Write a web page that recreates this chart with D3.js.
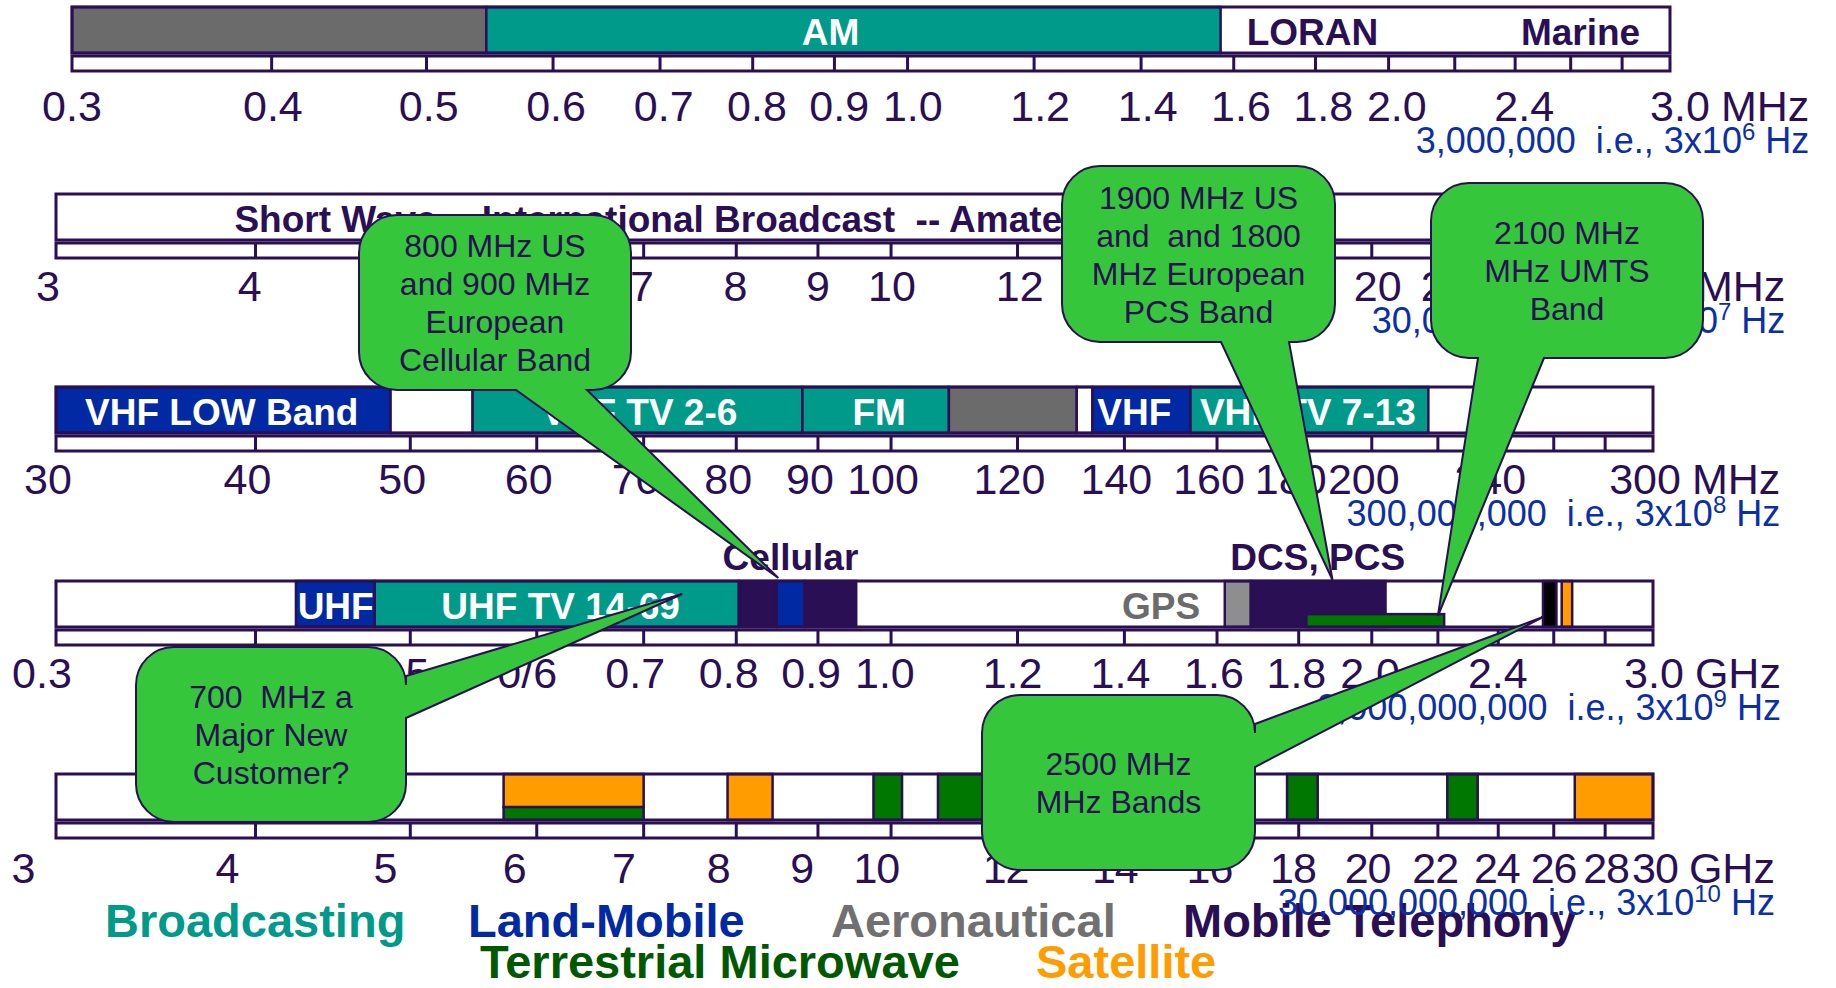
<!DOCTYPE html>
<html><head><meta charset="utf-8">
<script src="https://cdn.jsdelivr.net/npm/d3@7"></script>
<style>
html,body{margin:0;padding:0;background:#fff;}
svg{display:block;}
text{font-family:"Liberation Sans",Arial,Helvetica,sans-serif;white-space:pre;}
</style></head><body>
<svg id="chart" width="1836" height="988"></svg>
<script>
// ================= DATA =================
const rowMin  = [0.3, 3, 30, 0.3, 3];
const rowMax  = [3, 30, 300, 3, 30];
const rowUnit = ["MHz", "MHz", "MHz", "GHz", "GHz"];
const hzText  = ["3,000,000  i.e., 3x10", "30,000,000  i.e., 3x10", "300,000,000  i.e., 3x10",
                 "3,000,000,000  i.e., 3x10", "30,000,000,000  i.e., 3x10"];
const hzExp   = ["6", "7", "8", "9", "10"];

// tick marks in the strip under each band
const ticksA = [0.3,0.4,0.5,0.6,0.7,0.8,0.9,1.0,1.2,1.4,1.6,1.8,2.0,2.2,2.4,2.6,2.8,3.0];
const ticksB = [3,4,5,6,7,8,9,10,12,14,16,18,20,22,24,26,28,30];
const ticksC = [30,40,50,60,70,80,90,100,120,140,160,180,200,220,240,260,280,300];

// tick labels
const labelValsA = [0.3,0.4,0.5,0.6,0.7,0.8,0.9,1.0,1.2,1.4,1.6,1.8,2.0,2.4,3.0];
const labelTextA = ["0.3","0.4","0.5","0.6","0.7","0.8","0.9","1.0","1.2","1.4","1.6","1.8","2.0","2.4","3.0"];
const labelTextD = ["0.3","0.4","0.5","0/6","0.7","0.8","0.9","1.0","1.2","1.4","1.6","1.8","2.0","2.4","3.0"];
const labelValsB = [3,4,5,6,7,8,9,10,12,14,16,18,20,22,24,26,28,30];
const labelTextB = ["3","4","5","6","7","8","9","10","12","14","16","18","20","22","24","26","28","30"];
const labelValsC = [30,40,50,60,70,80,90,100,120,140,160,180,200,240,300];
const labelTextC = ["30","40","50","60","70","80","90","100","120","140","160","180","200","240","300"];

// allocation bands (frequency from/to in row units)
const bands1 = [
  {from:0.3,   to:0.545, cat:"aero"},
  {from:0.545, to:1.57,  cat:"broadcast"}
];
const bands2 = [];
const bands3 = [
  {from:30,    to:48.6,  cat:"land"},
  {from:48.6,  to:54.7,  cat:"none"},
  {from:54.7,  to:88,    cat:"broadcast"},
  {from:88,    to:108.7, cat:"broadcast"},
  {from:108.7, to:130.7, cat:"aero"},
  {from:130.7, to:133.7, cat:"none"},
  {from:133.7, to:154,   cat:"land"},
  {from:154,   to:217,   cat:"broadcast"}
];
const bands4 = [
  {from:0.424, to:0.475, cat:"land"},
  {from:0.475, to:0.803, cat:"broadcast"},
  {from:0.803, to:0.848, cat:"mobile"},
  {from:0.848, to:0.883, cat:"land"},
  {from:0.883, to:0.951, cat:"mobile"},
  {from:1.618, to:1.68,  cat:"gps"},
  {from:1.68,  to:2.04,  cat:"mobile"},
  {from:1.82,  to:2.22,  cat:"micro", part:"bottom"},
  {from:2.56,  to:2.61,  cat:"black"},
  {from:2.63,  to:2.67,  cat:"sat"}
];
const bands5 = [
  {from:5.72,  to:7.0,  cat:"sat",   part:"top"},
  {from:5.72,  to:7.0,  cat:"micro", part:"bottom"},
  {from:7.9,   to:8.43, cat:"sat"},
  {from:9.75,  to:10.16,cat:"micro"},
  {from:10.7,  to:11.7, cat:"micro"},
  {from:17.7,  to:18.5, cat:"micro"},
  {from:22.3,  to:23.3, cat:"micro"},
  {from:26.8,  to:30,   cat:"sat"}
];

// text written inside / above the bands
const bandLabels = [
  {row:0, at:0.895, text:"AM",           kind:"onColor", anchor:"middle"},
  {row:0, at:1.63,  text:"LORAN",        kind:"dark",    anchor:"start"},
  {row:0, at:2.42,  text:"Marine",       kind:"dark",    anchor:"start"},
  {row:1, at:3.88,  text:"Short Wave -- International Broadcast  -- Amateur", kind:"dark", anchor:"start"},
  {row:2, at:38.1,  text:"VHF LOW Band", kind:"onColor", anchor:"middle"},
  {row:2, at:69.6,  text:"VHF TV 2-6",   kind:"onColor", anchor:"middle"},
  {row:2, at:98.3,  text:"FM",           kind:"onColor", anchor:"middle"},
  {row:2, at:142,   text:"VHF",          kind:"onColor", anchor:"middle"},
  {row:2, at:182.4, text:"VHF TV 7-13",  kind:"onColor", anchor:"middle"},
  {row:3, at:0.449, text:"UHF",          kind:"onColor", anchor:"middle"},
  {row:3, at:0.621, text:"UHF TV 14-69", kind:"onColor", anchor:"middle"},
  {row:3, at:1.575, text:"GPS",          kind:"gray",    anchor:"end"}
];
const aboveLabels = [
  {row:3, at:0.865, text:"Cellular"},
  {row:3, at:1.85,  text:"DCS, PCS"}
];

// callouts: text lines and the row-4 frequency they point at
const calloutText = [
  ["800 MHz US", "and 900 MHz", "European", "Cellular Band"],
  ["1900 MHz US", "and  and 1800", "MHz European", "PCS Band"],
  ["2100 MHz", "MHz UMTS", "Band"],
  ["700  MHz a", "Major New", "Customer?"],
  ["2500 MHz", "MHz Bands"]
];
const calloutTarget = [0.85, 1.89, 2.2, 0.74, 2.56];

const legendNames = ["Broadcasting", "Land-Mobile", "Aeronautical", "Mobile Telephony",
                     "Terrestrial Microwave", "Satellite"];

// ================= STYLE / LAYOUT =================
const DARK = "#2a0f55";
const catColor = {
  broadcast:"#009a8a", land:"#0029a3", aero:"#6b6b6b", gps:"#8e8e8e",
  mobile:"#2a0f55", micro:"#007800", sat:"#ff9c00", black:"#000000", none:"#ffffff"
};
const legendColors = ["#009a8a", "#0029a3", "#707070", "#2a0f55", "#005800", "#ff9c00"];
const legendPos = [[105,937],[468,937],[831,937],[1183,937],[480,978],[1036,978]];

const rowTop    = [7, 194, 387, 581, 774];
const rowX      = [[72,1670],[56,1653],[56,1653],[56,1653],[56,1653]];
const labelX    = [[72,1680],[48,1662],[48,1645],[42,1654],[23,1655]];
const labelSpacing = [0, 0, 0, 0, -1];
const labelBase = [121, 301, 494, 688, 883];
const BOX_H = 46, STRIP_GAP = 3, STRIP_H = 15;
const HZ_DY = 32;      // Hz note baseline below tick-label baseline

const rowBands  = [bands1, bands2, bands3, bands4, bands5];
const rowTicks  = [ticksA, ticksB, ticksC, ticksA, ticksB];
const rowLVals  = [labelValsA, labelValsB, labelValsC, labelValsA, labelValsB];
const rowLTexts = [labelTextA, labelTextB, labelTextC, labelTextD, labelTextB];

// callout boxes (layout)
const calloutBox = [
  {x:359,  y:215, w:272, h:175, side:"bottom", b1:516,  b2:587,  tipDy:-3},
  {x:1062, y:166, w:273, h:176, side:"bottom", b1:1221, b2:1289, tipDy:-1},
  {x:1431, y:183, w:272, h:175, side:"bottom", b1:1478, b2:1544, tipDy:35},
  {x:136,  y:647, w:270, h:175, side:"right",  b1:676,  b2:718,  tipDy:13},
  {x:982,  y:695, w:273, h:175, side:"right",  b1:724,  b2:767,  tipDy:36}
];

// ================= DRAW =================
const svg = d3.select("#chart");
const scales = rowMin.map((m,i) => d3.scaleLog().domain([m, rowMax[i]]).range(rowX[i]));
const lscales = rowMin.map((m,i) => d3.scaleLog().domain([m, rowMax[i]]).range(labelX[i]));

const gRows = svg.append("g");
const unitEnds = [];

rowMin.forEach((_, i) => {
  const x = scales[i], top = rowTop[i];
  const [x0, x1] = rowX[i];
  const g = gRows.append("g");

  g.append("rect").attr("x", x0).attr("y", top).attr("width", x1 - x0).attr("height", BOX_H)
    .attr("fill", "#fff").attr("stroke", "none");

  g.selectAll("rect.band").data(rowBands[i]).join("rect").attr("class", "band")
    .attr("x", d => x(d.from))
    .attr("width", d => x(d.to) - x(d.from))
    .attr("y", d => d.part === "bottom" ? top + BOX_H * 0.72 : top)
    .attr("height", d => d.part === "bottom" ? BOX_H * 0.28 : (d.part === "top" ? BOX_H * 0.72 : BOX_H))
    .attr("fill", d => catColor[d.cat])
    .attr("stroke", DARK).attr("stroke-width", 2.5);

  g.append("rect").attr("x", x0).attr("y", top).attr("width", x1 - x0).attr("height", BOX_H)
    .attr("fill", "none").attr("stroke", DARK).attr("stroke-width", 3);

  const sy = top + BOX_H + STRIP_GAP;
  g.append("rect").attr("x", x0).attr("y", sy).attr("width", x1 - x0).attr("height", STRIP_H)
    .attr("fill", "#fff").attr("stroke", DARK).attr("stroke-width", 3);
  g.selectAll("line.tick").data(rowTicks[i].slice(1, -1)).join("line").attr("class", "tick")
    .attr("x1", d => x(d)).attr("x2", d => x(d))
    .attr("y1", sy).attr("y2", sy + STRIP_H)
    .attr("stroke", DARK).attr("stroke-width", 3);

  const lx = lscales[i];
  const vals = rowLVals[i], texts = rowLTexts[i];
  const lab = g.selectAll("text.tl").data(vals).join("text").attr("class", "tl")
    .attr("x", d => lx(d)).attr("y", labelBase[i])
    .attr("text-anchor", "middle")
    .attr("font-size", 43).attr("fill", DARK)
    .attr("letter-spacing", labelSpacing[i])
    .text((d, j) => texts[j]);
  const lastNode = lab.nodes()[lab.size() - 1];
  const lastW = lastNode.getComputedTextLength();
  const ux = lx(vals[vals.length - 1]) + lastW / 2 + 11;
  const unit = g.append("text").attr("x", ux).attr("y", labelBase[i])
    .attr("font-size", 43).attr("fill", DARK).text(rowUnit[i]);
  unitEnds.push(ux + unit.node().getComputedTextLength());
});

gRows.selectAll("text.bl").data(bandLabels).join("text").attr("class", "bl")
  .attr("x", d => scales[d.row](d.at) + (d.anchor === "end" ? -6 : 0))
  .attr("y", d => rowTop[d.row] + 38)
  .attr("text-anchor", d => d.anchor)
  .attr("font-size", 37).attr("font-weight", "bold")
  .attr("fill", d => d.kind === "onColor" ? "#ffffff" : (d.kind === "gray" ? "#6b6b6b" : DARK))
  .text(d => d.text);

gRows.selectAll("text.al").data(aboveLabels).join("text").attr("class", "al")
  .attr("x", d => scales[d.row](d.at))
  .attr("y", d => rowTop[d.row] - 11)
  .attr("text-anchor", "middle")
  .attr("font-size", 37).attr("font-weight", "bold").attr("fill", DARK)
  .text(d => d.text);

// legend
svg.append("g").selectAll("text").data(legendNames).join("text")
  .attr("x", (d, i) => legendPos[i][0]).attr("y", (d, i) => legendPos[i][1])
  .attr("font-size", 47).attr("font-weight", "bold")
  .attr("fill", (d, i) => legendColors[i])
  .text(d => d);

// Hz notes (blue)
const gHz = svg.append("g");
hzText.forEach((t, i) => {
  const tx = gHz.append("text").attr("x", unitEnds[i]).attr("y", labelBase[i] + HZ_DY)
    .attr("text-anchor", "end").attr("font-size", 36).attr("fill", "#0a2fa8");
  tx.append("tspan").text(t);
  tx.append("tspan").attr("font-size", 24).attr("dy", -13).text(hzExp[i]);
  tx.append("tspan").attr("dy", 13).text(" Hz");
});

// callouts
function calloutPath(b, tx, ty) {
  const r = 38, {x, y, w, h} = b;
  let p = `M${x + r},${y} H${x + w - r} A${r},${r} 0 0 1 ${x + w},${y + r} `;
  if (b.side === "right") p += `V${b.b1} L${tx},${ty} L${x + w},${b.b2} `;
  p += `V${y + h - r} A${r},${r} 0 0 1 ${x + w - r},${y + h} `;
  if (b.side === "bottom") p += `H${b.b2} L${tx},${ty} L${b.b1},${y + h} `;
  p += `H${x + r} A${r},${r} 0 0 1 ${x},${y + h - r} V${y + r} A${r},${r} 0 0 1 ${x + r},${y} Z`;
  return p;
}
const gC = svg.append("g");
calloutText.forEach((lines, i) => {
  const b = calloutBox[i];
  const tx = scales[3](calloutTarget[i]);
  const ty = rowTop[3] + b.tipDy;
  gC.append("path").attr("d", calloutPath(b, tx, ty))
    .attr("fill", "#35c63b").attr("stroke", DARK).attr("stroke-width", 2);
  const cx = b.x + b.w / 2, cy = b.y + b.h / 2;
  const sp = 38, n = lines.length;
  gC.selectAll(null).data(lines).join("text")
    .attr("x", cx).attr("y", (d, j) => cy - (n - 1) * sp / 2 + 11.5 + j * sp)
    .attr("text-anchor", "middle").attr("font-size", 32).attr("fill", DARK)
    .text(d => d);
});
</script>
</body></html>
